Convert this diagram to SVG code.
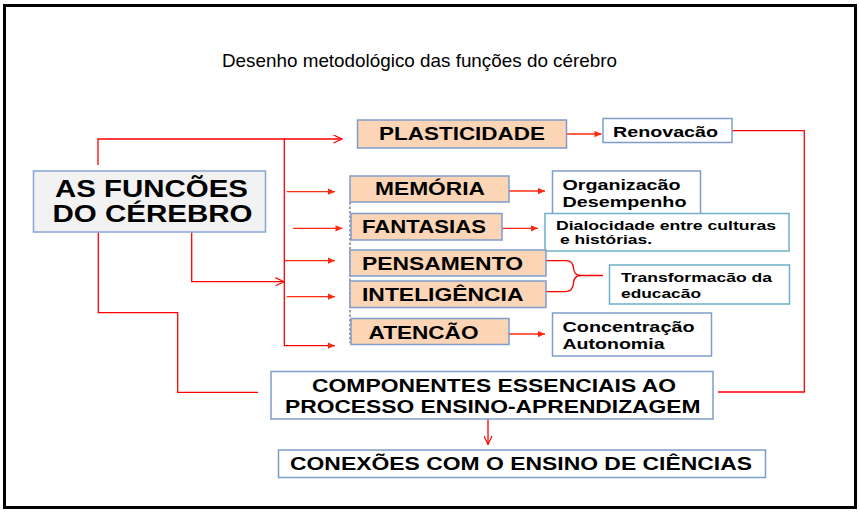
<svg xmlns="http://www.w3.org/2000/svg" width="860" height="512" viewBox="0 0 860 512">
<style>
text{font-family:"Liberation Sans",Arial,sans-serif;fill:#000}
.b{font-weight:bold}
.peach{fill:#fbd5b5;stroke:#7f9dcc;stroke-width:1.5}
.wb{fill:#fff;stroke:#7f9dcc;stroke-width:1.5}
.wt{fill:#fff;stroke:#6fb0c8;stroke-width:1.5}
.ln{fill:none;stroke:#ff0000;stroke-width:1.3}
.ar{fill:none;stroke:#ff2a10;stroke-width:1.3}
</style>
<defs>
<marker id="fa" viewBox="0 0 10 10" refX="10" refY="5" markerWidth="9" markerHeight="7" markerUnits="userSpaceOnUse" orient="auto"><path d="M0,0.5 L10,5 L0,9.5 z" fill="#ff2a10"/></marker>
<marker id="oa" viewBox="0 0 10 10" refX="9.5" refY="5" markerWidth="12" markerHeight="9" markerUnits="userSpaceOnUse" orient="auto"><path d="M0,0.5 L9.5,5 L0,9.5" fill="none" stroke="#ff0000" stroke-width="1.3"/></marker>
</defs>
<rect x="4.5" y="5.5" width="851" height="502" fill="#fff" stroke="#000" stroke-width="3"/>
<text x="222" y="66.5" font-size="19" textLength="395" lengthAdjust="spacingAndGlyphs">Desenho metodológico das funções do cérebro</text>

<g id="connectors">
<path class="ln" d="M98,165 V139 H342" marker-end="url(#oa)"/>
<path class="ln" d="M284.3,139 V345.7 H335" marker-end="url(#fa)"/>
<path class="ar" d="M286.7,191.7 H335" marker-end="url(#fa)"/>
<path class="ar" d="M293,228.3 H342.5" stroke-width="0.9" marker-end="url(#fa)"/>
<path class="ar" d="M284.3,260.7 H335" marker-end="url(#fa)"/>
<path class="ar" d="M286.7,296.7 H335" marker-end="url(#fa)"/>
<path class="ln" d="M191.7,232 V281.7 H284" marker-end="url(#oa)"/>
<path class="ln" d="M98.3,232 V312.7 H177.7 V392.3 H258"/>
<path class="ar" d="M567,134 H601.5" marker-end="url(#fa)"/>
<path class="ar" d="M509,191 H545" marker-end="url(#fa)"/>
<path class="ar" d="M502,228.3 H538" stroke-width="0.9" marker-end="url(#fa)"/>
<path class="ar" d="M509,334 H545" marker-end="url(#fa)"/>
<path class="ln" d="M732,130.7 H804.3 V392 H718"/>
<path class="ln" d="M488,419 V444.5" marker-end="url(#oa)"/>
<path class="ln" d="M546,260.7 H566 Q573,261 573.5,268 Q574,275 580,275.5 H603"/>
<path class="ln" d="M546,291.7 H566 Q573,291 573.5,283 Q574,276 580,275.5"/>
<path d="M350,202 V343" fill="none" stroke="#6b6b6b" stroke-width="1.3" stroke-dasharray="2.5,2"/>
</g>

<g id="as-funcoes">
<rect x="33.5" y="171" width="232" height="61" fill="#f2f2f2" stroke="#8ea9d6" stroke-width="1.6"/>
<text class="b" x="55" y="196.5" font-size="23" textLength="193" lengthAdjust="spacingAndGlyphs">AS FUNCÕES</text>
<text class="b" x="52.5" y="221.5" font-size="23" textLength="200" lengthAdjust="spacingAndGlyphs">DO CÉREBRO</text>
</g>

<g id="plasticidade">
<rect class="peach" x="357.5" y="120" width="209" height="28"/>
<text class="b" x="379" y="140" font-size="18.5" textLength="166" lengthAdjust="spacingAndGlyphs">PLASTICIDADE</text>
</g>
<g id="renovacao">
<rect class="wb" x="603" y="118.5" width="129" height="24"/>
<text class="b" x="613" y="136.5" font-size="15" textLength="105" lengthAdjust="spacingAndGlyphs">Renovacão</text>
</g>

<g id="memoria">
<rect class="peach" x="350" y="176" width="159" height="26"/>
<text class="b" x="375" y="195" font-size="18.5" textLength="110" lengthAdjust="spacingAndGlyphs">MEMÓRIA</text>
</g>
<g id="organizacao">
<rect class="wb" x="552.5" y="171" width="148" height="43"/>
<text class="b" x="562.5" y="190" font-size="15.5" textLength="118" lengthAdjust="spacingAndGlyphs">Organizacão</text>
<text class="b" x="562.5" y="207" font-size="15.5" textLength="124" lengthAdjust="spacingAndGlyphs">Desempenho</text>
</g>

<g id="fantasias">
<rect class="peach" x="351" y="213.5" width="151" height="26.5"/>
<text class="b" x="362" y="232.7" font-size="18.5" textLength="124" lengthAdjust="spacingAndGlyphs">FANTASIAS</text>
</g>
<g id="dialocidade">
<rect class="wt" x="545" y="213.5" width="244" height="37.5"/>
<text class="b" x="556" y="230" font-size="13" textLength="220" lengthAdjust="spacingAndGlyphs">Dialocidade entre culturas</text>
<text class="b" x="560" y="244" font-size="13" textLength="92" lengthAdjust="spacingAndGlyphs">e histórias.</text>
</g>

<g id="pensamento">
<rect class="peach" x="350" y="250" width="196" height="26"/>
<text class="b" x="362" y="269.5" font-size="18.5" textLength="161" lengthAdjust="spacingAndGlyphs">PENSAMENTO</text>
</g>
<g id="inteligencia">
<rect class="peach" x="350" y="281" width="196" height="26.5" stroke="#4d6b98" stroke-width="2"/>
<text class="b" x="362" y="301" font-size="18.5" textLength="161.5" lengthAdjust="spacingAndGlyphs">INTELIGÊNCIA</text>
</g>
<g id="transformacao">
<rect class="wt" x="609.5" y="265" width="180" height="39"/>
<text class="b" x="621" y="282" font-size="13.5" textLength="151" lengthAdjust="spacingAndGlyphs">Transformacão da</text>
<text class="b" x="621" y="297.5" font-size="13.5" textLength="80" lengthAdjust="spacingAndGlyphs">educacão</text>
</g>

<g id="atencao">
<rect class="peach" x="351" y="318.5" width="158" height="26"/>
<text class="b" x="368.5" y="339.3" font-size="18.5" textLength="110" lengthAdjust="spacingAndGlyphs">ATENCÃO</text>
</g>
<g id="concentracao">
<rect class="wb" x="552.5" y="313" width="159" height="43"/>
<text class="b" x="562.5" y="331.7" font-size="15.5" textLength="132" lengthAdjust="spacingAndGlyphs">Concentração</text>
<text class="b" x="562.5" y="349.3" font-size="15.5" textLength="102" lengthAdjust="spacingAndGlyphs">Autonomia</text>
</g>

<g id="componentes">
<rect class="wb" x="271" y="371.5" width="442" height="47.5"/>
<text class="b" x="312" y="391.7" font-size="17.5" textLength="364" lengthAdjust="spacingAndGlyphs">COMPONENTES ESSENCIAIS AO</text>
<text class="b" x="285" y="412.7" font-size="17.5" textLength="415.5" lengthAdjust="spacingAndGlyphs">PROCESSO ENSINO-APRENDIZAGEM</text>
</g>
<g id="conexoes">
<rect class="wb" x="278.5" y="450" width="487" height="27.5"/>
<text class="b" x="290" y="470" font-size="17.5" textLength="462" lengthAdjust="spacingAndGlyphs">CONEXÕES COM O ENSINO DE CIÊNCIAS</text>
</g>
</svg>
